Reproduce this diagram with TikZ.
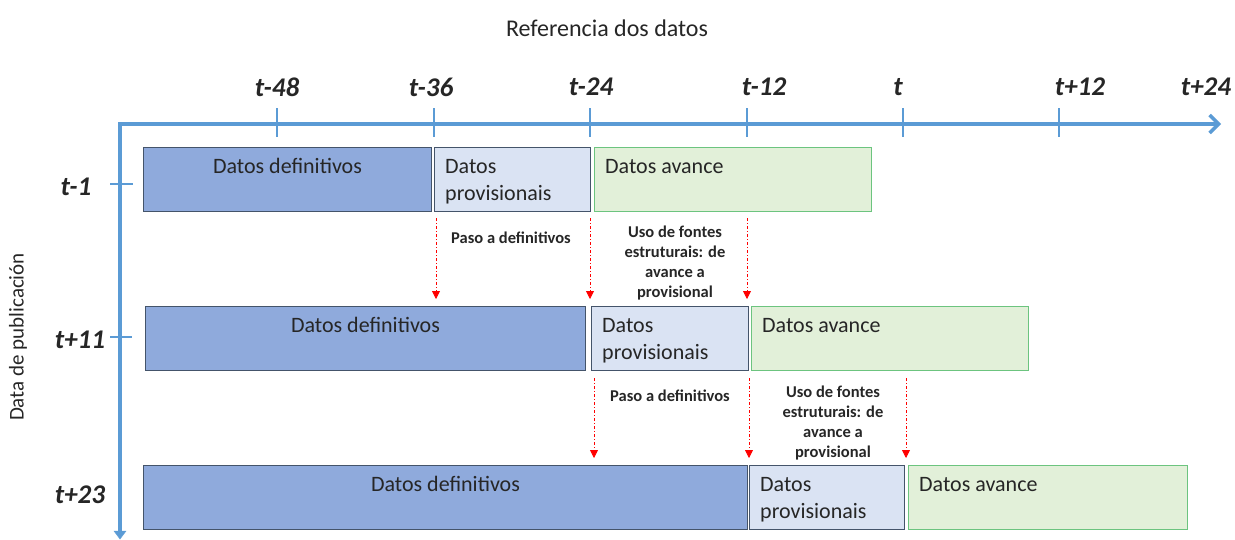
\documentclass[tikz,border=0pt]{standalone}
\usepackage{fontspec}
\setmainfont{Carlito}
\usetikzlibrary{arrows.meta}
\definecolor{axisblue}{HTML}{5B9BD5}
\definecolor{deffill}{HTML}{8FAADC}
\definecolor{provfill}{HTML}{DAE3F3}
\definecolor{avfill}{HTML}{E2F0D9}
\definecolor{avborder}{HTML}{6CC47F}
\definecolor{boxborder}{HTML}{44546A}
\definecolor{txt}{HTML}{262626}
\begin{document}
\begin{tikzpicture}[x=1pt,y=-1pt,
  every node/.style={text=txt},
  databox/.style={draw=boxborder, line width=1pt, anchor=north west, inner sep=0pt, minimum height=64pt},
  defbox/.style={databox, fill=deffill},
  provbox/.style={databox, fill=provfill},
  avbox/.style={databox, fill=avfill, draw=avborder},
  boxtext/.style={font=\fontsize{22}{27}\selectfont, inner sep=0pt, anchor=base},
  boxtextl/.style={font=\fontsize{22}{27}\selectfont, inner sep=0pt, anchor=base west, align=left},
  ticklab/.style={font=\fontsize{27}{30}\selectfont\bfseries\itshape},
  rowlab/.style={font=\fontsize{27}{30}\selectfont\bfseries\itshape},
  note/.style={font=\fontsize{16.5}{20}\selectfont\bfseries, align=center},
  axis/.style={draw=axisblue, line width=3.5pt},
  tick/.style={draw=axisblue, line width=1.6pt},
  move/.style={draw=red, line width=0.8pt, dash pattern=on 3pt off 2pt on 1pt off 2pt, -{Triangle[length=8pt,width=8pt]}}
]
\useasboundingbox (0,0) rectangle (1235,539);

% title and axis labels
\node[font=\fontsize{24}{26}\selectfont] (title) at (607,28) {Referencia dos datos};
\node[font=\fontsize{21}{24}\selectfont, rotate=90] (ylab) at (18,337) {Data de publicación};

% axes
\coordinate (orig) at (120,124);
\coordinate (xend) at (1221,124);
\coordinate (yend) at (120,539);
\draw[axis, line join=miter, -{Straight Barb[length=9pt,width=18pt,line width=3.5pt]}] (yend) ++(0,-6) -- (orig) -- (xend);
\draw[draw=axisblue, fill=axisblue] (114,531) -- (126,531) -- (120,539) -- cycle;

% ticks on time axis
\foreach \x/\n in {277/a,434/b,590/c,747/d,903/e,1059/f}{
  \coordinate (tt\n) at (\x,108);
  \coordinate (tb\n) at (\x,137);
  \draw[tick] (tt\n) -- (tb\n);
}
\node[ticklab] (l48) at (277,87) {t-48};
\node[ticklab] (l36) at (431,87) {t-36};
\node[ticklab] (l24) at (591,87) {t-24};
\node[ticklab] (l12) at (764,87) {t-12};
\node[ticklab] (l0) at (898,87) {t};
\node[ticklab] (lp12) at (1080,87) {t+12};
\node[ticklab] (lp24) at (1206,87) {t+24};

% ticks on publication axis
\coordinate (r1a) at (110,184); \coordinate (r1b) at (133,184);
\draw[tick] (r1a) -- (r1b);
\coordinate (r2a) at (110,337); \coordinate (r2b) at (132,337);
\draw[tick] (r2a) -- (r2b);

\node[rowlab] (p1) at (76,187) {t-1};
\node[rowlab] (p2) at (80,340) {t+11};
\node[rowlab] (p3) at (80,495) {t+23};

% row 1
\node[defbox, minimum width=288pt] (d1) at (143,147) {};
\node[provbox, minimum width=156pt] (v1) at (434,147) {};
\node[avbox, minimum width=277pt] (a1) at (594,147) {};
\node[boxtext] (d1t) at ([yshift=-26pt]d1.north) {Datos definitivos};
\node[boxtextl] (v1t) at ([xshift=11pt,yshift=-53pt]v1.north west) {Datos\\provisionais};
\node[boxtextl] (a1t) at ([xshift=11pt,yshift=-26pt]a1.north west) {Datos avance};

% row 2
\node[defbox, minimum width=440pt] (d2) at (145,306) {};
\node[provbox, minimum width=157pt] (v2) at (591,306) {};
\node[avbox, minimum width=277pt] (a2) at (751,306) {};
\node[boxtext] (d2t) at ([yshift=-26pt]d2.north) {Datos definitivos};
\node[boxtextl] (v2t) at ([xshift=11pt,yshift=-53pt]v2.north west) {Datos\\provisionais};
\node[boxtextl] (a2t) at ([xshift=11pt,yshift=-26pt]a2.north west) {Datos avance};

% row 3
\node[defbox, minimum width=604pt] (d3) at (143,465) {};
\node[provbox, minimum width=155pt] (v3) at (749,465) {};
\node[avbox, minimum width=279pt] (a3) at (908,465) {};
\node[boxtext] (d3t) at ([yshift=-26pt]d3.north) {Datos definitivos};
\node[boxtextl] (v3t) at ([xshift=11pt,yshift=-53pt]v3.north west) {Datos\\provisionais};
\node[boxtextl] (a3t) at ([xshift=11pt,yshift=-26pt]a3.north west) {Datos avance};

% transition arrows row 1 -> row 2
\coordinate (m1s) at (436,218); \coordinate (m1e) at (436,299);
\coordinate (m2s) at (590,218); \coordinate (m2e) at (590,299);
\coordinate (m3s) at (747,218); \coordinate (m3e) at (747,299);
\draw[move] (m1s) -- (m1e);
\draw[move] (m2s) -- (m2e);
\draw[move] (m3s) -- (m3e);
\node[note] (n1) at (511,238) {Paso a definitivos};
\node[note] (n2) at (675,263) {Uso de fontes\\estruturais: de\\avance a\\provisional};

% transition arrows row 2 -> row 3
\coordinate (m4s) at (594,378); \coordinate (m4e) at (594,458);
\coordinate (m5s) at (749,378); \coordinate (m5e) at (749,458);
\coordinate (m6s) at (906,378); \coordinate (m6e) at (906,458);
\draw[move] (m4s) -- (m4e);
\draw[move] (m5s) -- (m5e);
\draw[move] (m6s) -- (m6e);
\node[note] (n3) at (670,396) {Paso a definitivos};
\node[note] (n4) at (833,423) {Uso de fontes\\estruturais: de\\avance a\\provisional};
\end{tikzpicture}
\end{document}
